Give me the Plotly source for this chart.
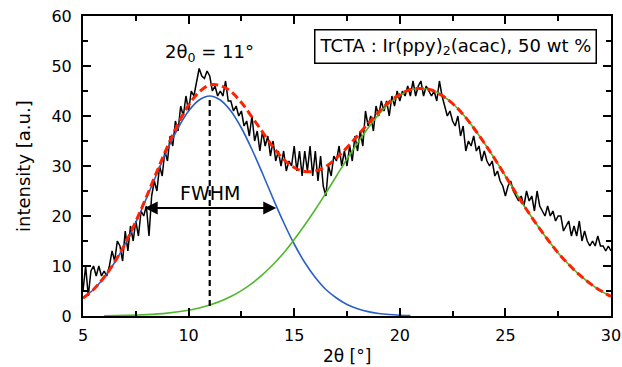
import plotly.graph_objects as go

# ---------------- data ----------------
# measured diffraction intensity, sampled every 0.125 deg starting at 5 deg
meas_x0 = 5.0
meas_dx = 0.125
meas_y = [
    5, 10, 4, 9, 10, 8, 10, 8, 9, 8, 10, 13, 11, 15, 14, 11,
    17, 13, 18, 15, 19, 16, 21, 20, 22, 16, 24, 27, 25, 30, 28, 33,
    31, 36, 34, 39, 37, 42, 40, 44, 41, 45, 44, 47, 49.5, 48, 47.5, 49,
    48, 45, 46, 44, 45, 44, 47, 43, 43, 41, 42, 40, 41, 38, 39, 36,
    40, 35, 37, 33, 37, 34, 36, 32, 35, 31, 33, 30, 33, 29, 31, 30,
    34, 29, 33, 28, 33, 29, 34, 28, 33, 27, 32, 26, 24, 30, 28, 32,
    31, 34, 30, 33, 30, 34, 31, 36, 33, 37, 34, 41, 38, 40, 37, 42,
    40, 43, 41, 43, 40, 44, 42, 45, 43, 45, 44, 46, 44, 47, 44, 46,
    47, 44, 46, 45, 44, 45, 43, 47, 44, 42, 40, 41, 39, 38, 40, 36,
    38, 33, 35, 34, 36, 33, 34, 31, 33, 31, 30, 31, 28, 29, 27, 26,
    24, 26, 27, 25, 24, 23, 24, 22, 25, 23, 24, 21, 25, 22, 21, 20,
    22, 20, 21, 19, 20, 20, 17, 18, 19, 16, 18, 16, 19, 15, 17, 15,
    14, 15, 14, 16, 14, 14, 13, 14, 13,
]

# fitted peak 1 (blue), read every 0.5 deg
fit1_x = [5, 5.5, 6, 6.5, 7, 7.5, 8, 8.5, 9, 9.5, 10, 10.5, 11, 11.5, 12,
          12.5, 13, 13.5, 14, 14.5, 15, 15.5, 16, 16.5, 17, 17.5, 18,
          18.5, 19, 19.5, 20, 20.5]
fit1_y = [3.6, 5.3, 7.7, 10.7, 14.4, 18.7, 23.5, 28.5, 33.3, 37.6, 41.0,
          43.2, 44.0, 43.2, 41.0, 37.6, 33.3, 28.5, 23.5, 18.7, 14.4, 10.7,
          7.7, 5.3, 3.6, 2.3, 1.45, 0.88, 0.51, 0.29, 0.16, 0.08]

# fitted peak 2 (green)
fit2_x = [6, 7, 8, 9, 10, 10.5, 11, 11.5, 12, 12.5, 13, 13.5, 14, 14.5,
          15, 15.5, 16, 16.5, 17, 17.5, 18, 18.5, 19, 19.5, 20, 20.5, 21,
          21.5, 22, 22.5, 23, 23.5, 24, 24.5, 25, 25.5, 26, 26.5, 27,
          27.5, 28, 28.5, 29, 29.5, 30]
fit2_y = [0.05, 0.12, 0.27, 0.58, 1.16, 1.6, 2.19, 2.94, 3.9, 5.08, 6.53,
          8.26, 10.3, 12.6, 15.3, 18.2, 21.3, 24.6, 28.0, 31.4, 34.6, 37.6,
          40.3, 42.5, 44.1, 45.2, 45.5, 45.2, 44.1, 42.5, 40.3, 37.6, 34.6,
          31.4, 28.0, 24.6, 21.3, 18.2, 15.3, 12.6, 10.3, 8.26, 6.53, 5.08,
          3.9]

# sum of both fits (red dashed)
fitsum_x = [5, 5.5, 6, 6.5, 7, 7.5, 8, 8.5, 9, 9.5, 10, 10.5, 11, 11.5, 12,
            12.5, 13, 13.5, 14, 14.5, 15, 15.5, 16, 16.5, 17, 17.5, 18,
            18.5, 19, 19.5, 20, 20.5, 21, 21.5, 22, 22.5, 23, 23.5, 24,
            24.5, 25, 25.5, 26, 26.5, 27, 27.5, 28, 28.5, 29, 29.5, 30]
fitsum_y = [3.6, 5.3, 7.75, 10.8, 14.5, 18.9, 23.8, 28.9, 33.9, 38.4, 42.2,
            44.8, 46.2, 46.1, 44.9, 42.7, 39.8, 36.8, 33.8, 31.3, 29.7,
            28.9, 29.0, 29.9, 31.6, 33.7, 36.05, 38.5, 40.8, 42.8, 44.3,
            45.3, 45.5, 45.2, 44.1, 42.5, 40.3, 37.6, 34.6, 31.4, 28.0,
            24.6, 21.3, 18.2, 15.3, 12.6, 10.3, 8.26, 6.53, 5.08, 3.9]

# annotation values
peak_center = 11.0
peak_line_bottom = 2.0
peak_line_top = 44.0
fwhm_left = 7.85
fwhm_right = 14.15
fwhm_level = 21.6

x_range = [5, 30]
y_range = [0, 60]

FONT = "DejaVu Sans"

fig = go.Figure()
fig.add_trace(go.Scatter(x0=meas_x0, dx=meas_dx, y=meas_y, mode="lines",
                         line=dict(color="black", width=1.5)))
fig.add_trace(go.Scatter(x=fit1_x, y=fit1_y, mode="lines", line_shape="spline",
                         line=dict(color="#2a5fc8", width=1.6)))
fig.add_trace(go.Scatter(x=fit2_x, y=fit2_y, mode="lines", line_shape="spline",
                         line=dict(color="#4fb82a", width=1.6)))
fig.add_trace(go.Scatter(x=fitsum_x, y=fitsum_y, mode="lines", line_shape="spline",
                         line=dict(color="#ff2200", width=3, dash="8px,4px")))

# dashed vertical line at peak centre
fig.add_shape(type="line", x0=peak_center, x1=peak_center,
              y0=peak_line_bottom, y1=peak_line_top, xref="x", yref="y",
              line=dict(color="black", width=2.2, dash="6px,4px"))

# FWHM double arrow
fig.add_annotation(x=fwhm_right, y=fwhm_level, ax=fwhm_left, ay=fwhm_level,
                   xref="x", yref="y", axref="x", ayref="y", text="",
                   showarrow=True, arrowhead=2, startarrowhead=2,
                   arrowside="end+start", arrowsize=1.3, startarrowsize=1.3,
                   arrowwidth=2, arrowcolor="black", standoff=0, startstandoff=0)
fig.add_annotation(x=peak_center, y=24.6, xref="x", yref="y", text="FWHM",
                   showarrow=False, font=dict(family=FONT, size=19, color="black"))
fig.add_annotation(x=peak_center, y=52.6, xref="x", yref="y",
                   text="2θ<sub>0</sub> = 11°", showarrow=False,
                   font=dict(family=FONT, size=18, color="black"))
fig.add_annotation(x=22.66, y=54, xref="x", yref="y",
                   text="TCTA : Ir(ppy)<sub>2</sub>(acac), 50 wt %",
                   showarrow=False, bordercolor="black", borderwidth=1.5,
                   borderpad=4, bgcolor="white",
                   font=dict(family=FONT, size=18, color="black"))

# axis titles
fig.add_annotation(x=0.5, y=0, xref="paper", yref="paper", yshift=-40,
                   text="2θ [°]", showarrow=False, yanchor="middle",
                   font=dict(family=FONT, size=17, color="black"))
fig.add_annotation(x=0, y=0.5, xref="paper", yref="paper", xshift=-60,
                   text="intensity [a.u.]", showarrow=False, textangle=-90,
                   xanchor="center", font=dict(family=FONT, size=18, color="black"))

axis_common = dict(showgrid=False, zeroline=False, showline=True, linewidth=2,
                   linecolor="black", mirror="allticks", ticks="inside",
                   ticklen=8, tickwidth=1.5, tickcolor="black", automargin=False,
                   ticklabeloverflow="allow",
                   tickfont=dict(family=FONT, size=16, color="black"))
fig.update_xaxes(range=x_range, tick0=5, dtick=5,
                 minor=dict(dtick=2.5, ticks="inside", ticklen=5, tickwidth=1.5,
                            tickcolor="black", showgrid=False),
                 ticklabelstandoff=4, **axis_common)
fig.update_yaxes(range=y_range, tick0=0, dtick=10,
                 minor=dict(dtick=5, ticks="inside", ticklen=5, tickwidth=1.5,
                            tickcolor="black", showgrid=False),
                 ticklabelstandoff=6, **axis_common)

fig.update_layout(width=622, height=367, showlegend=False,
                  margin=dict(l=83, r=11, t=16, b=51, autoexpand=False),
                  plot_bgcolor="white", paper_bgcolor="white")

# remove the browser's default 8px page margin so the figure fills the window
fig.write_html("out.html",
               config={"displayModeBar": False},
               post_script="document.body.style.margin='0';"
                           "document.body.style.overflow='hidden';")
